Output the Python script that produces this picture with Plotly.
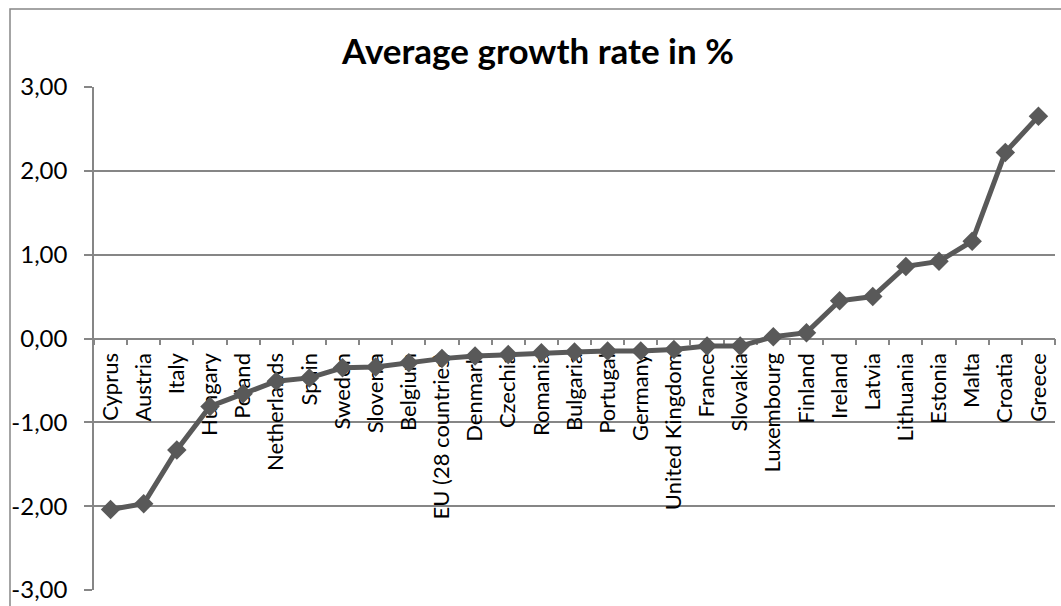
import plotly.graph_objects as go

# Average annual growth rate by country, sorted ascending
countries = [
    "Cyprus", "Austria", "Italy", "Hungary", "Poland", "Netherlands", "Spain",
    "Sweden", "Slovenia", "Belgium", "EU (28 countries)", "Denmark", "Czechia",
    "Romania", "Bulgaria", "Portugal", "Germany", "United Kingdom", "France",
    "Slovakia", "Luxembourg", "Finland", "Ireland", "Latvia", "Lithuania",
    "Estonia", "Malta", "Croatia", "Greece",
]
growth = [
    -2.04, -1.97, -1.33, -0.81, -0.66, -0.51, -0.47,
    -0.35, -0.34, -0.29, -0.24, -0.21, -0.19,
    -0.17, -0.16, -0.15, -0.15, -0.13, -0.09,
    -0.09, 0.02, 0.07, 0.45, 0.50, 0.86,
    0.92, 1.16, 2.22, 2.65,
]
y_ticks = [-3, -2, -1, 0, 1, 2, 3]
y_ticktext = [f"{v:.2f}".replace(".", ",") for v in y_ticks]

W, H = 1061, 606
M_L, M_R, M_T, M_B = 94, 6, 87, 16
GRID = "#868686"
LINE = "#595959"
FONT = "Lato"

y_min, y_max = y_ticks[0], y_ticks[-1]

fig = go.Figure(
    go.Scatter(
        x=countries,
        y=growth,
        mode="lines+markers",
        line=dict(color=LINE, width=5),
        marker=dict(symbol="diamond", size=15, color=LINE),
        hoverinfo="x+y",
    )
)

plot_w = W - M_L - M_R
plot_h = H - M_T - M_B
# outer chart frame (left and top edges visible inside the canvas)
fig.add_shape(
    type="rect", xref="paper", yref="paper",
    x0=(10 - M_L) / plot_w, x1=(W + 20 - M_L) / plot_w,
    y0=-(H + 20 - M_T - plot_h) / plot_h, y1=(H - M_B - 9) / plot_h,
    line=dict(color=GRID, width=1.5), fillcolor="rgba(0,0,0,0)", layer="below",
)

fig.update_layout(
    width=W, height=H,
    margin=dict(l=M_L, r=M_R, t=M_T, b=M_B, autoexpand=False),
    paper_bgcolor="white", plot_bgcolor="white",
    showlegend=False,
    title=dict(
        text="<b>Average growth rate in %</b>",
        x=538 / W, xref="container", xanchor="center",
        y=1 - 52 / H, yref="container", yanchor="middle",
        font=dict(family=FONT, size=35, color="black"),
    ),
    font=dict(family=FONT, color="black"),
)

fig.update_xaxes(
    type="category",
    anchor="free",
    position=(0 - y_min) / (y_max - y_min),
    showline=True, linecolor=GRID, linewidth=1.5,
    ticks="outside", tickson="boundaries", ticklen=6, tickwidth=1.5, tickcolor=GRID,
    tickangle=-90,
    ticklabelstandoff=5,
    tickfont=dict(family=FONT, size=22, color="black"),
    showgrid=False, zeroline=False,
    layer="below traces",
    automargin=False,
    range=[-0.5, len(countries) - 0.5],
)

fig.update_yaxes(
    range=[y_min, y_max],
    tickvals=y_ticks, ticktext=y_ticktext,
    showgrid=True, gridcolor=GRID, gridwidth=1.5,
    zeroline=False,
    showline=True, linecolor=GRID, linewidth=1.5,
    ticks="outside", ticklen=8, tickwidth=1.5, tickcolor=GRID,
    ticklabelstandoff=12,
    automargin=False,
    tickfont=dict(family=FONT, size=24, color="black"),
)

fig.write_html("out.html")
